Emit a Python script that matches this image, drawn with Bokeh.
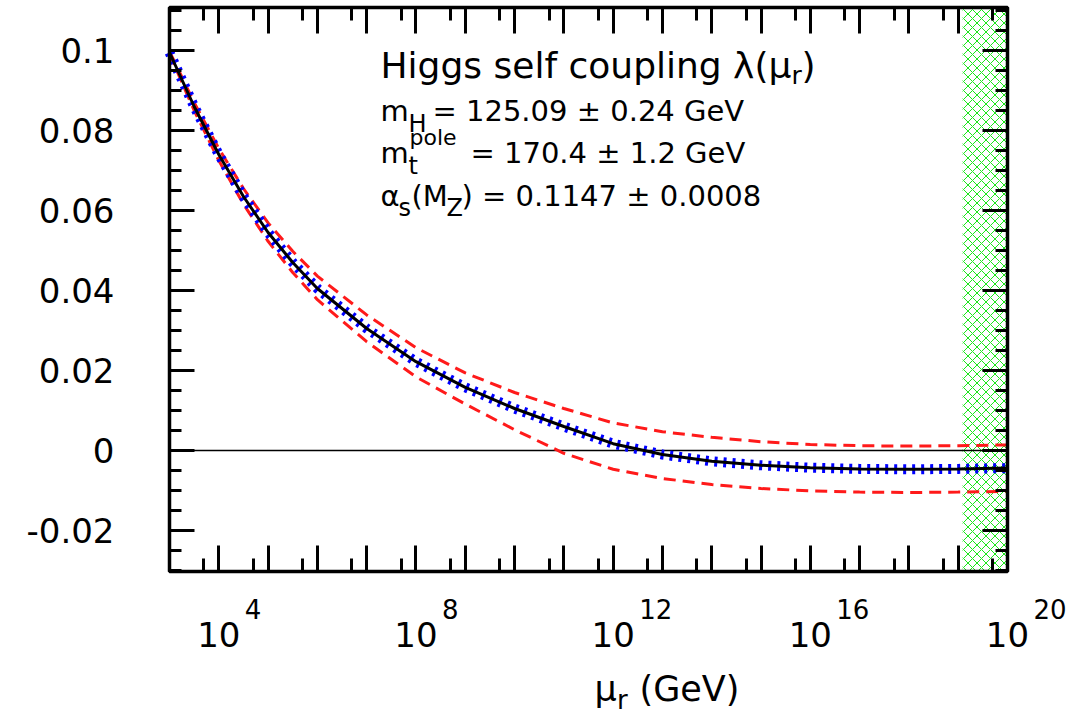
from bokeh.plotting import figure
from bokeh.models import (Range1d, LogAxis, LinearAxis, FixedTicker, Label,
                          CustomJSTickFormatter)
from bokeh.embed import file_html
from bokeh.resources import INLINE

# ---------------- data ----------------
mu_exponent = [3.0, 3.5, 4.0, 4.5, 5.0, 5.5, 6.0, 7.0, 8.0, 9.0, 10.0, 11.0, 12.0,
               13.0, 14.0, 15.0, 16.0, 17.0, 18.0, 19.0, 20.0]
lambda_central = [0.0995, 0.0860, 0.0740, 0.0635, 0.0545, 0.0470, 0.0405, 0.0305,
                  0.0222, 0.0158, 0.0105, 0.0060, 0.0017, -0.0010, -0.0027,
                  -0.0037, -0.0043, -0.0046, -0.0047, -0.0046, -0.0044]
lambda_upper = [0.0998, 0.0870, 0.0755, 0.0655, 0.0569, 0.0498, 0.0436, 0.0339,
                0.0257, 0.0194, 0.0145, 0.0105, 0.0069, 0.0047, 0.0033,
                0.0022, 0.0015, 0.0012, 0.0011, 0.0012, 0.0014]
lambda_lower = [0.0992, 0.0850, 0.0725, 0.0616, 0.0523, 0.0445, 0.0377, 0.0272,
                0.0184, 0.0116, 0.0052, -0.0007, -0.0047, -0.0070, -0.0085,
                -0.0095, -0.0101, -0.0104, -0.0105, -0.0104, -0.0102]
planck_exponent = 19.09          # hatched region: mu above the Planck mass

y_major_ticks = [-0.02, 0.0, 0.02, 0.04, 0.06, 0.08, 0.1]
y_minor_ticks = [-0.03, -0.025, -0.015, -0.01, -0.005, 0.005, 0.01, 0.015, 0.025,
                 0.03, 0.035, 0.045, 0.05, 0.055, 0.065, 0.07, 0.075, 0.085,
                 0.09, 0.095, 0.105, 0.11]
x_decade_exponents = list(range(3, 21))
x_label_exponents = [4, 8, 12, 16, 20]
x_minor_mantissa = 5

title_text = "Higgs self coupling λ(μ"
info_mh = "= 125.09 ± 0.24 GeV"
info_mt = "= 170.4 ± 1.2 GeV"
info_as = ") = 0.1147 ± 0.0008"

# ---------------- layout ----------------
FONT = "DejaVu Sans"
XMIN_EXP, XMAX_EXP = 3.0, 20.0          # box x extent (log10 GeV)
YMIN, YMAX = -0.03025, 0.11075          # box y extent
W, H = 1078, 715
FL, FR, FT, FB = 169, 1007, 7, 571      # box edges in canvas pixels
MID = 0.346                              # baseline -> middle of text box, in em

DX = (XMAX_EXP - XMIN_EXP) / (FR - FL)  # decades per pixel
DY = (YMAX - YMIN) / (FB - FT)          # lambda per pixel


def X(px):
    return 10.0 ** (XMIN_EXP + (px - FL) * DX)


def Y(py):
    return YMIN + (FB - py) * DY


p = figure(width=W, height=H, x_axis_type="log", title=None,
           x_range=Range1d(X(0), X(W)), y_range=Range1d(Y(H), Y(0)),
           output_backend="svg", toolbar_location=None,
           min_border_left=0, min_border_right=0, min_border_top=0, min_border_bottom=0)
p.background_fill_color = "white"
p.border_fill_color = "white"
p.outline_line_color = None
p.grid.visible = False

x_major = [10.0 ** e for e in x_decade_exponents]
x_minor = [x_minor_mantissa * 10.0 ** e for e in x_decade_exponents[:-1]]

tick_style = dict(major_tick_in=26, major_tick_out=0, minor_tick_in=13, minor_tick_out=0,
                  major_tick_line_width=3, minor_tick_line_width=3,
                  major_tick_line_color="black", minor_tick_line_color="black",
                  axis_line_color=None)

# hatched Planck region (drawn first)
p.quad(left=[10.0 ** planck_exponent], right=[10.0 ** XMAX_EXP], bottom=[YMIN], top=[YMAX],
       fill_color=None, line_color=None, hatch_pattern="diagonal_cross",
       hatch_color="#19e619", hatch_scale=9, hatch_weight=1.0)

# zero line
p.line([10.0 ** XMIN_EXP, 10.0 ** XMAX_EXP], [0.0, 0.0], line_color="black", line_width=1.6)

mu = [10.0 ** e for e in mu_exponent]
p.line(mu, lambda_upper, line_color="#ff1a1a", line_width=3, line_dash="12 7")
p.line(mu, lambda_lower, line_color="#ff1a1a", line_width=3, line_dash="12 7")
p.line(mu, lambda_central, line_color="#0000ff", line_width=10, line_dash="3 6")
p.line(mu, lambda_central, line_color="black", line_width=3)

# frame box
p.quad(left=[10.0 ** XMIN_EXP], right=[10.0 ** XMAX_EXP], bottom=[YMIN], top=[YMAX],
       fill_color=None, line_color="black", line_width=3.5)

# bottom axis
xa = p.xaxis[0]
xa.fixed_location = YMIN
xa.ticker = FixedTicker(ticks=x_major, minor_ticks=x_minor)
xa.formatter = CustomJSTickFormatter(args=dict(exps=x_label_exponents), code="""
const e = Math.round(Math.log10(tick));
return exps.includes(e) ? "10" : "";
""")
for k, v in tick_style.items():
    setattr(xa, k, v)
xa.major_label_standoff = 50
xa.major_label_text_font = FONT
xa.major_label_text_font_size = "34px"
xa.major_label_text_color = "black"

# left axis
ya = p.yaxis[0]
ya.fixed_location = 10.0 ** XMIN_EXP
ya.ticker = FixedTicker(ticks=y_major_ticks, minor_ticks=y_minor_ticks)
ya.formatter = CustomJSTickFormatter(code="return Number(tick.toFixed(3)).toString();")
for k, v in tick_style.items():
    setattr(ya, k, v)
ya.major_tick_in = 25
ya.minor_tick_in = 12
ya.major_label_standoff = 55
ya.major_label_text_font = FONT
ya.major_label_text_font_size = "34px"
ya.major_label_text_color = "black"

# mirrored axes (ticks only)
top = LogAxis(ticker=FixedTicker(ticks=x_major, minor_ticks=x_minor),
              formatter=CustomJSTickFormatter(code="return '';"),
              fixed_location=YMAX, major_label_standoff=0,
              major_label_text_font_size="0px", **tick_style)
p.add_layout(top, "above")
right = LinearAxis(ticker=FixedTicker(ticks=y_major_ticks, minor_ticks=y_minor_ticks),
                   formatter=CustomJSTickFormatter(code="return '';"),
                   fixed_location=10.0 ** XMAX_EXP, major_label_standoff=0,
                   major_label_text_font_size="0px", **tick_style)
right.major_tick_in = 25
right.minor_tick_in = 12
p.add_layout(right, "right")


def add_text(px, py, text, size, x=None, x_offset=0):
    # py is the baseline position in canvas pixels
    p.add_layout(Label(x=X(px) if x is None else x, y=Y(py - MID * size),
                       x_offset=x_offset, text=text, text_font=FONT,
                       text_font_size=f"{size}px", text_color="black",
                       text_baseline="middle", text_align="left"))


# exponents of the x tick labels
for e in x_label_exponents:
    add_text(0, 617, str(e), 26, x=10.0 ** e, x_offset=26)

# x axis title
add_text(594, 701, "μ", 35)
add_text(616.5, 708, "r", 26)
add_text(639, 701, "(GeV)", 35)

# legend text block
add_text(380, 77, title_text, 36)
add_text(791, 84, "r", 25)
add_text(801, 77, ")", 36)

add_text(380, 121, "m", 29)
add_text(408, 132, "H", 24)
add_text(432, 121, info_mh, 29)

add_text(380, 163, "m", 29)
add_text(408, 174, "t", 24)
add_text(409, 145, "pole", 22)
add_text(470, 163, info_mt, 29)

add_text(380, 206, "α", 29)
add_text(398, 216, "s", 24)
add_text(411, 206, "(M", 29)
add_text(446, 216, "Z", 24)
add_text(461, 206, info_as, 29)

open("out.html", "w").write(file_html(p, INLINE))
